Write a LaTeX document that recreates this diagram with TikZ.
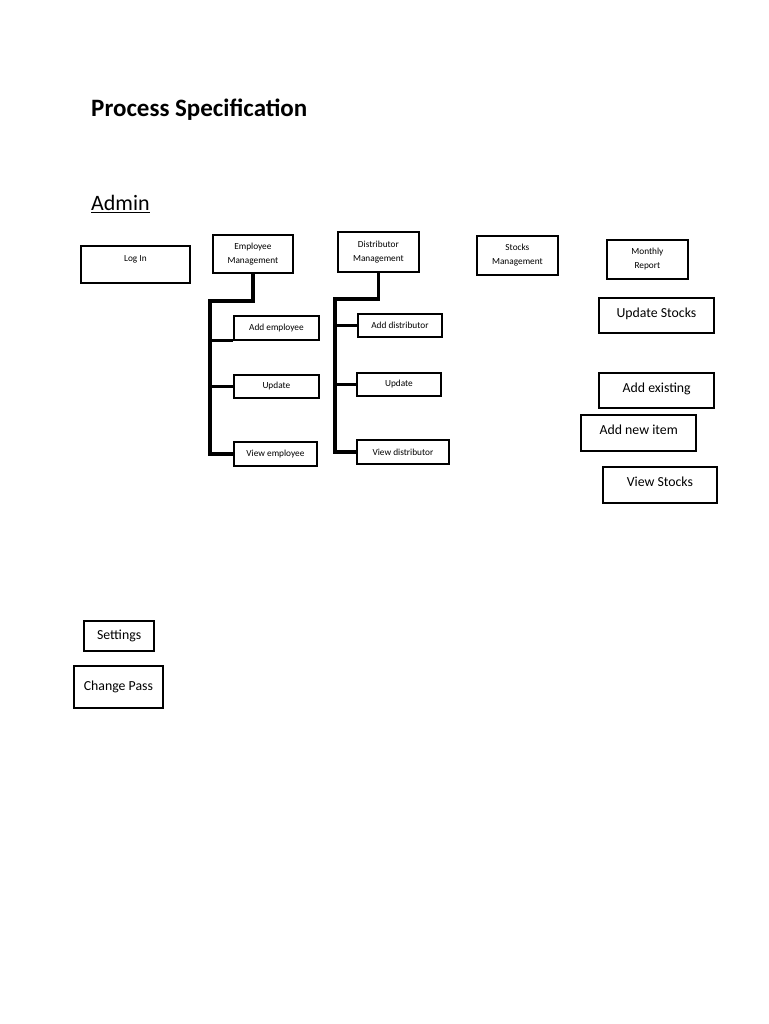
\documentclass[tikz,border=0pt]{standalone}
\usepackage{fontspec}
\setmainfont{Carlito}
\begin{document}
\begin{tikzpicture}[x=1pt,y=-1pt,
  box/.style={draw,line width=1.8pt,inner sep=0pt,anchor=north west,align=center},
  small/.style={font=\fontsize{9.3}{14}\selectfont},
  mid/.style={font=\fontsize{13.8}{16}\selectfont},
  conn/.style={line width=3.2pt,line join=miter}]
\useasboundingbox (0,0) rectangle (768,1024);
\node[anchor=base west,inner sep=0pt,font=\fontsize{25}{30}\selectfont\bfseries] (title) at (91,117) {Process Specification};
\node[anchor=base west,font=\fontsize{22}{26}\selectfont,inner sep=0pt] (admin) at (91,211) {\underline{Admin}};
% top row
\node[box,small,minimum width=109,minimum height=37,text depth=12pt] (login) at (80,245) {Log In};
\node[box,small,minimum width=80,minimum height=38] (emp) at (212,234) {Employee\\Management};
\node[box,small,minimum width=81,minimum height=40] (dist) at (337,231) {Distributor\\Management};
\node[box,small,minimum width=81,minimum height=39] (stock) at (476,235) {Stocks\\Management};
\node[box,small,minimum width=81,minimum height=39] (month) at (606,239) {Monthly\\Report};
% employee children
\node[box,small,minimum width=85,minimum height=24] (addemp) at (233,315) {Add employee};
\node[box,small,minimum width=85,minimum height=23] (upemp) at (233,374) {Update};
\node[box,small,minimum width=83,minimum height=24] (viewemp) at (233,441) {View employee};
% distributor children
\node[box,small,minimum width=84,minimum height=23] (adddist) at (357,313) {Add distributor};
\node[box,small,minimum width=84,minimum height=23] (updist) at (356,372) {Update};
\node[box,small,minimum width=92,minimum height=24] (viewdist) at (356,439) {View distributor};
% stocks
\node[box,mid,minimum width=115,minimum height=35,text depth=6pt] (upstock) at (598,297) {Update Stocks};
\node[box,mid,minimum width=115,minimum height=35,line width=2.4pt,text depth=5pt] (addex) at (598,372) {Add existing};
\node[box,mid,minimum width=115,minimum height=36,line width=2.4pt,text depth=7pt] (addnew) at (580,414) {Add new item};
\node[box,mid,minimum width=114,minimum height=36,text depth=6pt] (viewstock) at (602,466) {View Stocks};
% settings
\node[box,mid,minimum width=70,minimum height=30,line width=2.2pt] (settings) at (83,620) {Settings};
\node[box,mid,minimum width=89,minimum height=42] (chpass) at (73,665) {Change Pass};
% connectors
\coordinate (ej) at (210,301);
\draw[conn] (emp.south) |- (ej) -- (ej |- viewemp.west) -- (viewemp.west);
\draw[conn] (ej |- addemp.south west) -- (addemp.south west);
\draw[conn] (ej |- upemp.west) -- (upemp.west);
\coordinate (dj) at (335,299);
\draw[conn] (dist.south) |- (dj) -- (dj |- viewdist.west) -- (viewdist.west);
\draw[conn] (dj |- adddist.west) -- (adddist.west);
\draw[conn] (dj |- updist.west) -- (updist.west);
\end{tikzpicture}
\end{document}
